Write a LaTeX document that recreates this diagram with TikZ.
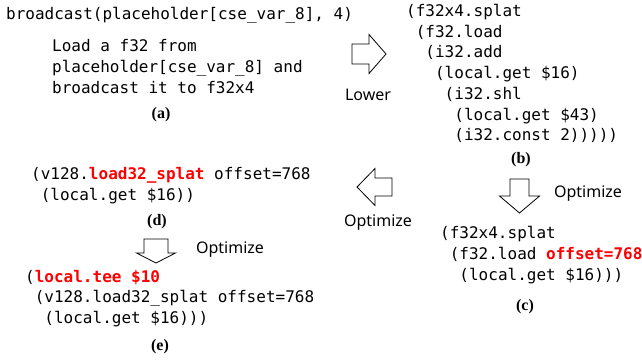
\documentclass[tikz,border=0pt]{standalone}
\usepackage{fontspec}
\setmainfont{Liberation Serif}
\setmonofont{DejaVu Sans Mono}
\newfontfamily\labelfont{Noto Sans}
\usetikzlibrary{positioning}
\newcommand{\ind}[1]{\hspace*{#1\fontcharwd\font`x}}
\newcommand{\hl}[1]{\textcolor{red}{\textbf{#1}}}

\begin{document}
\begin{tikzpicture}[x=1pt,y=-1pt,
   code/.style={anchor=base west,inner sep=0pt,align=left,font=\ttfamily\fontsize{16}{20.7}\selectfont},
   caption/.style={inner sep=0pt,font=\bfseries\fontsize{16}{19}\selectfont},
   lbl/.style={inner sep=0pt,font=\labelfont\fontsize{16}{19}\selectfont},
   pics/bigarrow/.style args={#1/#2/#3/#4}{code={
      \draw[line width=0.8pt,fill=white] (0,-#3) -- ({#1-#2},-#3) -- ({#1-#2},-#4)
         -- (#1,0) -- ({#1-#2},#4) -- ({#1-#2},#3) -- (0,#3) -- cycle;}}]
   \useasboundingbox[fill=white] (0,0) rectangle (642,360);

   % (a) source (base = last line)
   \node[code] (src)  at (6,19)  {broadcast(placeholder[cse\_var\_8], 4)};
   \node[code] (desc) at (52,93) {Load a f32 from\\placeholder[cse\_var\_8] and\\broadcast it to f32x4};
   \node[caption] (capa) at (161,115) {(a)};

   % (b) lowered
   \node[code] (lowered) at (406,140.7) {(f32x4.splat\\\ind{1}(f32.load\\\ind{2}(i32.add\\\ind{3}(local.get \$16)\\\ind{4}(i32.shl\\\ind{5}(local.get \$43)\\\ind{5}(i32.const 2)))))};
   \node[caption] (capb) at (521,160) {(b)};

   % (c) offset folded
   \node[code] (folded) at (440,280) {(f32x4.splat\\\ind{1}(f32.load \hl{offset=768}\\\ind{2}(local.get \$16)))};
   \node[caption] (capc) at (525,307) {(c)};

   % (d) load32 splat
   \node[code] (splat) at (31,200) {(v128.\hl{load32\_splat} offset=768\\\ind{1}(local.get \$16))};
   \node[caption] (capd) at (157,222) {(d)};

   % (e) local.tee
   \node[code] (tee) at (25,323.5) {(\hl{local.tee \$10}\\\ind{1}(v128.load32\_splat offset=768\\\ind{2}(local.get \$16)))};
   \node[caption] (cape) at (160,347) {(e)};

   % steps
   \pic at (352,54) {bigarrow=34/17/10/19.5};
   \node[lbl] (lower) at (368,95) {Lower};
   \pic[rotate=-90] at (519.5,179) {bigarrow=34/17/9.5/20};
   \node[lbl] (opt1) at (588,194) {Optimize};
   \pic[rotate=180] at (392,187) {bigarrow=35/18/9/18.5};
   \node[lbl] (opt2) at (378,223) {Optimize};
   \pic[rotate=-90] at (156,239) {bigarrow=24/10/12/19.5};
   \node[lbl] (opt3) at (230,250) {Optimize};
\end{tikzpicture}
\end{document}
